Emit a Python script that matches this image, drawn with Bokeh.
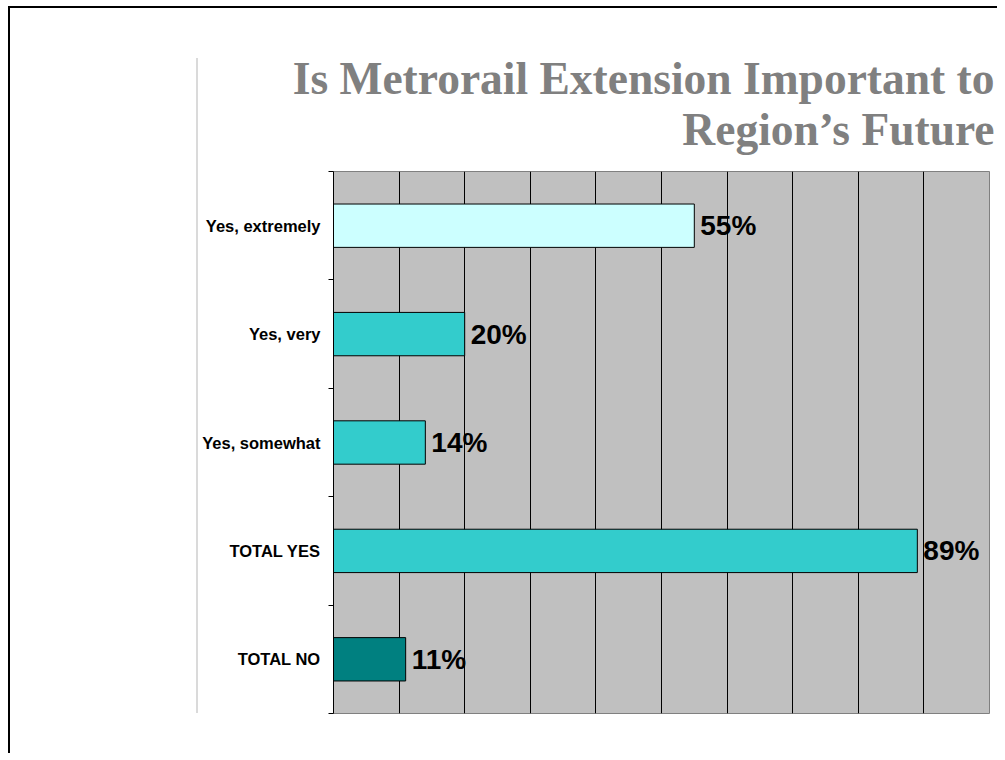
from bokeh.plotting import figure
from bokeh.models import (Range1d, LinearAxis, FixedTicker, Grid, ColumnDataSource,
                          LabelSet, Title, Div)
from bokeh.layouts import row
from bokeh.embed import file_html
from bokeh.resources import INLINE
from bokeh.core.properties import value

categories = ["Yes, extremely", "Yes, very", "Yes, somewhat", "TOTAL YES", "TOTAL NO"]
percent = [55, 20, 14, 89, 11]
bar_colors = ["#CCFFFF", "#33CCCC", "#33CCCC", "#33CCCC", "#008080"]
value_labels = [f"{v}%" for v in percent]
title_lines = ["Is Metrorail Extension Important to", "Region\u2019s Future"]
grid_ticks = [10, 20, 30, 40, 50, 60, 70, 80, 90]

n = len(categories)
ypos = [n - i - 0.5 for i in range(n)]

p = figure(width=799, height=745, output_backend="svg", toolbar_location=None,
           x_range=Range1d(0, 100), y_range=Range1d(0, n),
           x_axis_location=None, y_axis_location=None,
           min_border_left=135, min_border_right=8, min_border_top=163, min_border_bottom=40)
p.background_fill_color = "#C0C0C0"
p.border_fill_color = "white"
p.outline_line_color = "#808080"
p.outline_line_width = 1
for g in list(p.grid):
    g.visible = False

cat_axis = LinearAxis(ticker=FixedTicker(ticks=ypos, minor_ticks=list(range(n + 1))),
                      major_label_overrides={y: c for y, c in zip(ypos, categories)})
cat_axis.axis_line_color = "black"
cat_axis.major_tick_line_color = None
cat_axis.major_tick_out = 0
cat_axis.major_tick_in = 0
cat_axis.minor_tick_line_color = "black"
cat_axis.minor_tick_out = 5
cat_axis.minor_tick_in = 0
cat_axis.major_label_text_font = "Liberation Sans"
cat_axis.major_label_text_font_style = "bold"
cat_axis.major_label_text_font_size = "16.5px"
cat_axis.major_label_text_color = "black"
cat_axis.major_label_standoff = 8
p.add_layout(cat_axis, "left")

p.add_layout(Grid(dimension=0, ticker=FixedTicker(ticks=grid_ticks),
                  grid_line_color="black", grid_line_width=1))

src = ColumnDataSource(dict(y=ypos, val=percent, color=bar_colors, lab=value_labels))
p.hbar(y="y", left=0, right="val", height=0.4, fill_color="color",
       line_color="black", line_width=1, source=src)

p.add_layout(LabelSet(x="val", y="y", text="lab", source=src, x_offset=6,
                      text_baseline="middle", text_font=value("Liberation Sans"),
                      text_font_style="bold", text_font_size="28px", text_color="black"))

# title: add bottom line first (nearest the frame)
title_style = dict(align="right", offset=-5, text_font="Liberation Serif",
                   text_font_style="bold", text_font_size="45.5px", text_color="#808080")
p.add_layout(Title(text=title_lines[1], standoff=34, **title_style), "above")
try:
    t1 = Title(text=title_lines[0], standoff=-39, **title_style)
except Exception:
    t1 = Title(text=title_lines[0], standoff=0, **title_style)
p.add_layout(t1, "above")

left_rule = Div(width=188, height=705, margin=0,
                styles={"background": "linear-gradient(#DADADA,#DADADA) no-repeat right 0 top 50px / 2px 655px"})

page = row(left_rule, p, styles={"border-left": "2px solid black", "border-top": "2px solid black",
                                  "margin-left": "8px", "margin-top": "6px"})

open("out.html", "w").write(file_html(page, INLINE))
